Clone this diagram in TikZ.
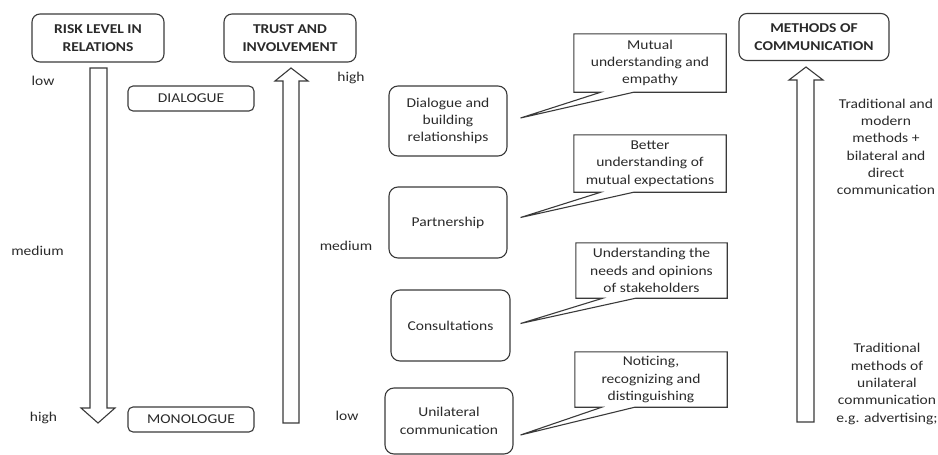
\documentclass[tikz,border=0pt]{standalone}
\usepackage{fontspec}
\setmainfont{Carlito}[FakeStretch=1.15]
\usetikzlibrary{calc}
\definecolor{ln}{HTML}{3A3A3A}
\definecolor{tx}{HTML}{2A2A2A}
\begin{document}
\begin{tikzpicture}[x=1pt,y=-1pt,
  every node/.style={text=tx,font=\fontsize{13.5}{17.3}\selectfont},
  head/.style={draw=ln,line width=1.1pt,rounded corners=8pt,align=center,font=\fontsize{13.5}{17.3}\selectfont\bfseries,inner sep=0pt},
  stage/.style={draw=ln,line width=1.1pt,rounded corners=9pt,align=center,inner sep=0pt},
  tag/.style={draw=ln,line width=1.1pt,rounded corners=5pt,inner sep=0pt,minimum width=126pt,minimum height=25pt},
  callbox/.style={align=center,inner sep=0pt,minimum width=152pt,minimum height=57pt},
  callline/.style={draw=ln,line width=1.1pt,line join=miter},
  bigarrow/.style={draw=ln,line width=1.1pt,fill=white},
  lbl/.style={inner sep=0pt}]
\useasboundingbox (0,0) rectangle (938,455);

% header boxes
\node[head,minimum width=132pt,minimum height=48pt] (risk) at (98,38) {RISK LEVEL IN\\RELATIONS};
\node[head,minimum width=132pt,minimum height=48pt] (trust) at (290,38) {TRUST AND\\INVOLVEMENT};
\node[head,minimum width=150pt,minimum height=47pt] (meth) at (814,37) {METHODS OF\\COMMUNICATION};

% down arrow (risk)
\draw[bigarrow] (90,68) -- (107,68) -- (107,408) -- (115,408) -- (98,423) -- (81,408) -- (90,408) -- cycle;
% up arrow (trust)
\draw[bigarrow] (283,423) -- (299,423) -- (299,81) -- (308,81) -- (291,68) -- (275,81) -- (283,81) -- cycle;
% up arrow (methods)
\draw[bigarrow] (797,422) -- (814,422) -- (814,80) -- (823,80) -- (806,67) -- (789,80) -- (797,80) -- cycle;

% tags
\node[tag] (dia) at (191,98.5) {DIALOGUE};
\node[tag] (mono) at (191,419.5) {MONOLOGUE};

% left labels
\node[lbl] (lowL) at (43,81) {low};
\node[lbl] (medL) at (37.5,251) {medium};
\node[lbl] (highL) at (43.5,418) {high};
% trust labels
\node[lbl] (highT) at (351,78) {high};
\node[lbl] (medT) at (346,246) {medium};
\node[lbl] (lowT) at (347,416) {low};

% stages
\node[stage,minimum width=118pt,minimum height=70pt] (s1) at (448,121) {Dialogue and\\building\\relationships};
\node[stage,minimum width=118pt,minimum height=71pt] (s2) at (448,222.5) {Partnership};
\node[stage,minimum width=119pt,minimum height=71pt] (s3) at (450.5,325.5) {Consultations};
\node[stage,minimum width=128pt,minimum height=66pt] (s4) at (449,421) {Unilateral\\communication};

% callout tips
\coordinate (t1) at ($(s1.east)+(13,-3)$);
\coordinate (t2) at ($(s2.east)+(13,-5)$);
\coordinate (t3) at ($(s3.east)+(10,-2)$);
\coordinate (t4) at ($(s4.east)+(7,14)$);

% callouts
\node[callbox,minimum height=58pt] (c1) at (650,63) {Mutual\\understanding and\\empathy};
\node[callbox] (c2) at (650,163.5) {Better\\understanding of\\mutual expectations};
\node[callbox,minimum width=151pt,minimum height=55pt] (c3) at (651.5,270.5) {Understanding the\\needs and opinions\\of stakeholders};
\node[callbox,minimum height=55pt] (c4) at (651,379.5) {Noticing,\\recognizing and\\distinguishing};

\foreach \c/\t in {c1/t1,c2/t2,c3/t3,c4/t4}{
  \draw[callline] (\c.south west) -- (\c.north west) -- (\c.north east) -- (\c.south east)
    -- ($(\c.south west)+(60,0)$) -- (\t) -- ($(\c.south west)+(27,0)$) -- cycle;
}

% right texts
\node[align=center,inner sep=0pt] (r1) at (886,147) {Traditional and\\modern\\methods +\\bilateral and\\direct\\communication};
\node[align=center,inner sep=0pt] (r2) at (887,384) {Traditional\\methods of\\unilateral\\communication\\e.g. advertising;};
\end{tikzpicture}
\end{document}
